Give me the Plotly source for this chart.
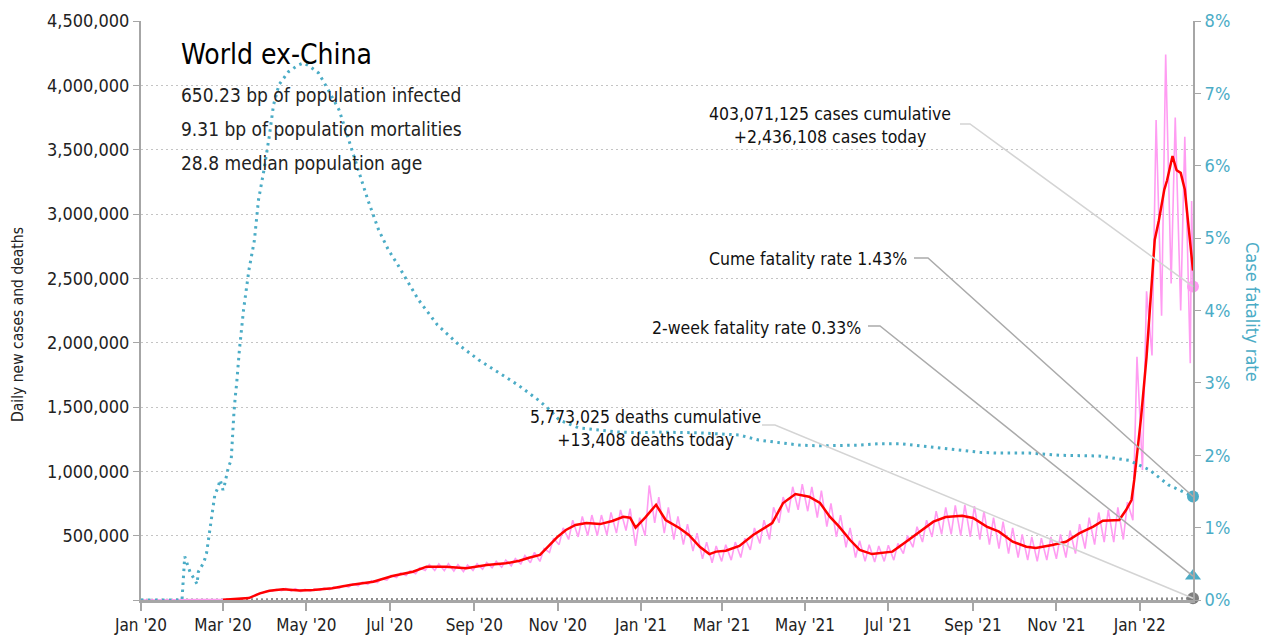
import pandas as pd
import plotly.graph_objects as go

FONT = "DejaVu Sans Condensed, Liberation Sans Narrow, Roboto Condensed, sans-serif"

# ---- 7-day average of daily new cases (thousands) ----
avg_dates = ["2020-03-01","2020-03-06","2020-03-13","2020-03-20","2020-03-28","2020-04-04","2020-04-14",
             "2020-04-26","2020-05-06","2020-05-20","2020-06-02","2020-06-19","2020-07-03","2020-07-18",
             "2020-07-28","2020-08-11","2020-08-26","2020-09-10","2020-09-24","2020-10-04","2020-10-11",
             "2020-10-19","2020-10-26","2020-11-01","2020-11-07","2020-11-14","2020-11-22","2020-12-02",
             "2020-12-11","2020-12-19","2020-12-24","2020-12-28","2021-01-04","2021-01-12","2021-01-19",
             "2021-01-29","2021-02-05","2021-02-13","2021-02-20","2021-02-25","2021-03-04","2021-03-14",
             "2021-03-24","2021-04-03","2021-04-07","2021-04-15","2021-04-24","2021-05-04","2021-05-12",
             "2021-05-19","2021-05-26","2021-06-03","2021-06-10","2021-06-19","2021-07-04","2021-07-14",
             "2021-07-24","2021-08-03","2021-08-12","2021-08-24","2021-09-01","2021-09-11","2021-09-20",
             "2021-09-30","2021-10-10","2021-10-17","2021-10-29","2021-11-08","2021-11-18","2021-11-28",
             "2021-12-05","2021-12-17","2021-12-22","2021-12-26","2021-12-28","2021-12-31","2022-01-02",
             "2022-01-06","2022-01-08","2022-01-12","2022-01-15","2022-01-19","2022-01-21","2022-01-25",
             "2022-01-28","2022-01-31","2022-02-03","2022-02-06","2022-02-09"]
avg_k = [1,5,8,15,52,72,83,74,78,91,117,142,187,220,259,259,246,272,285,305,328,350,427,492,544,583,598,590,
         614,647,640,562,640,740,622,560,505,414,357,376,383,420,505,570,598,754,824,803,754,650,570,466,389,
         357,376,453,531,609,645,655,637,570,531,453,414,404,427,453,520,570,616,622,699,777,933,1220,1420,
         1890,2200,2800,2950,3190,3260,3450,3340,3320,3190,2880,2560]

# ---- raw daily new cases (thousands): weekly low (Mondays) and weekly high (Thursdays) ----
raw_week_start = "2020-03-02"
raw_lo_k = [2,5,9,30,55,68,72,70,66,68,74,80,90,100,110,122,135,155,175,190,205,230,230,228,225,220,230,240,
            250,255,265,280,290,300,370,430,470,490,500,500,505,520,540,420,500,600,520,470,430,380,320,290,
            300,310,330,390,440,470,600,680,700,690,640,570,490,410,330,300,295,300,310,360,410,450,490,510,
            510,500,490,470,430,400,360,330,310,300,310,320,330,360,400,430,450,450,470,620,1010,1900,2210,
            2460,2250,1840]
raw_hi_k = [4,8,15,45,70,82,90,88,82,85,92,100,112,126,138,150,165,190,210,228,250,275,280,282,275,272,282,292,
            300,310,322,345,370,400,480,560,620,650,660,660,680,700,710,640,890,800,720,650,590,520,450,420,
            430,450,480,560,620,720,800,880,900,880,850,750,660,560,460,430,420,425,440,500,570,620,690,720,
            735,740,730,690,640,610,560,510,490,480,490,510,540,590,640,680,700,720,760,1890,2400,3730,4240,
            3750,3600]
raw_head_dates = ["2020-01-01", "2020-02-28"]
raw_head_k = [0, 0.5]
raw_tail_dates = ["2022-02-08", "2022-02-09"]
raw_tail_k = [3100, 2436.108]

# ---- daily deaths (thousands) ----
death_dates = ["2020-01-01","2020-03-01","2020-03-15","2020-03-29","2020-04-12","2020-04-26","2020-05-10",
               "2020-05-24","2020-06-07","2020-06-21","2020-07-05","2020-07-19","2020-08-02","2020-08-16",
               "2020-08-30","2020-09-13","2020-09-27","2020-10-11","2020-10-25","2020-11-08","2020-11-22",
               "2020-12-06","2020-12-20","2021-01-03","2021-01-17","2021-01-31","2021-02-14","2021-02-28",
               "2021-03-14","2021-03-28","2021-04-11","2021-04-25","2021-05-09","2021-05-23","2021-06-06",
               "2021-06-20","2021-07-04","2021-07-18","2021-08-01","2021-08-15","2021-08-29","2021-09-12",
               "2021-09-26","2021-10-10","2021-10-24","2021-11-07","2021-11-21","2021-12-05","2021-12-19",
               "2022-01-02","2022-01-16","2022-01-30","2022-02-09"]
deaths_k = [0,0.1,0.5,3.5,6.5,5.5,4.5,4.0,4.2,4.5,4.8,5.5,5.8,5.8,5.4,5.3,5.3,5.6,6.5,8.5,10.5,11.2,11.5,11.8,
            14.0,13.0,10.5,8.8,8.8,10.0,11.5,13.5,12.8,11.2,10.0,8.5,7.8,8.0,9.0,10.0,9.8,9.0,7.8,6.8,6.9,7.0,
            7.0,7.2,6.8,6.5,7.5,10.0,11.5]

# ---- cumulative case fatality rate (%) ----
cfr_dates = ["2020-01-01","2020-01-31","2020-02-02","2020-02-03","2020-02-06","2020-02-09","2020-02-11",
             "2020-02-12","2020-02-13","2020-02-16","2020-02-18","2020-02-19","2020-02-20","2020-02-21",
             "2020-02-22","2020-02-23","2020-02-24","2020-02-26","2020-02-28","2020-03-01","2020-03-02",
             "2020-03-04","2020-03-05","2020-03-07","2020-03-08","2020-03-09","2020-03-10","2020-03-11",
             "2020-03-13","2020-03-16","2020-03-20","2020-03-24","2020-03-27","2020-03-31","2020-04-04",
             "2020-04-07","2020-04-11","2020-04-18","2020-04-25","2020-04-29","2020-05-03","2020-05-10",
             "2020-05-17","2020-05-25","2020-06-01","2020-06-08","2020-06-15","2020-06-23","2020-06-30",
             "2020-07-07","2020-07-22","2020-08-05","2020-08-21","2020-09-04","2020-09-19","2020-10-03",
             "2020-10-18","2020-10-26","2020-11-02","2020-11-16","2020-12-01","2020-12-16","2020-12-31",
             "2021-01-14","2021-02-12","2021-03-14","2021-03-28","2021-04-27","2021-05-12","2021-06-10",
             "2021-06-25","2021-07-09","2021-08-08","2021-09-06","2021-09-20","2021-10-12","2021-11-03",
             "2021-12-02","2021-12-24","2022-01-08","2022-01-22","2022-02-09"]
cfr_pct = [0,0,0.60,0.55,0.38,0.29,0.22,0.39,0.42,0.52,0.65,0.78,0.92,1.01,1.15,1.29,1.45,1.54,1.66,1.52,1.58,
           1.75,1.84,1.93,2.30,2.58,2.81,2.99,3.45,4.00,4.56,4.97,5.53,5.94,6.42,6.84,7.12,7.30,7.39,7.42,7.38,
           7.28,7.05,6.77,6.36,5.94,5.53,5.11,4.84,4.63,4.15,3.80,3.52,3.32,3.14,2.97,2.76,2.63,2.49,2.38,2.35,
           2.32,2.31,2.32,2.31,2.28,2.21,2.14,2.13,2.14,2.16,2.16,2.10,2.04,2.03,2.03,2.00,1.99,1.93,1.80,
           1.59,1.43]

# ---- headline numbers ----
cases_cum = 403071125
cases_today = 2436108
deaths_cum = 5773025
deaths_today = 13408
cume_cfr = 1.43
two_week_cfr = 0.33
end_date = "2022-02-09"
title = "World ex-China"
stats = ["650.23 bp of population infected", "9.31 bp of population mortalities", "28.8 median population age"]
y_title = "Daily new cases and deaths"
y2_title = "Case fatality rate"

Y_MAX = 4500000
Y2_MAX = 8

# build raw zigzag from the weekly lows/highs
mondays = pd.date_range(raw_week_start, periods=len(raw_lo_k), freq="7D")
raw_x, raw_y = list(pd.to_datetime(raw_head_dates)), [v * 1000 for v in raw_head_k]
for i, m in enumerate(mondays):
    raw_x.append(m); raw_y.append(raw_lo_k[i] * 1000)
    if i < len(raw_hi_k):
        raw_x.append(m + pd.Timedelta(days=3)); raw_y.append(raw_hi_k[i] * 1000)
raw_x += list(pd.to_datetime(raw_tail_dates)); raw_y += [v * 1000 for v in raw_tail_k]

TEAL = "#4bacc6"
PINK = "#ff9cf2"

fig = go.Figure()
fig.add_trace(go.Scatter(x=death_dates, y=[v * 1000 for v in deaths_k], mode="lines",
                         line=dict(color="#8c8c8c", width=2.5, dash="2px,3px"), hoverinfo="skip"))
fig.add_trace(go.Scatter(x=raw_x, y=raw_y, mode="lines", line=dict(color=PINK, width=1.6), hoverinfo="skip"))
fig.add_trace(go.Scatter(x=avg_dates, y=[v * 1000 for v in avg_k], mode="lines",
                         line=dict(color="#ff0000", width=2.5), hoverinfo="skip"))
fig.add_trace(go.Scatter(x=cfr_dates, y=cfr_pct, mode="lines", yaxis="y2",
                         line=dict(color=TEAL, width=3, dash="2.5px,4.5px"), hoverinfo="skip"))
# end markers
fig.add_trace(go.Scatter(x=[end_date], y=[cases_today], mode="markers", cliponaxis=False,
                         marker=dict(color=PINK, size=12)))
fig.add_trace(go.Scatter(x=[end_date], y=[deaths_today], mode="markers", cliponaxis=False,
                         marker=dict(color="#7f7f7f", size=12)))
fig.add_trace(go.Scatter(x=[end_date], y=[cume_cfr], mode="markers", yaxis="y2", cliponaxis=False,
                         marker=dict(color=TEAL, size=12)))
fig.add_trace(go.Scatter(x=[end_date], y=[two_week_cfr], mode="markers", yaxis="y2", cliponaxis=False,
                         marker=dict(color=TEAL, size=14, symbol="triangle-up")))

# target plot-area edges in page pixels; the page body has an 8px margin
OFF = 8
L, R, T, B = 141, 1193, 21, 600
W, H = R - L, B - T
def px(x): return (x - L) / W
def py(y): return (B - y) / H

annotations = [
    dict(x=px(179), y=py(55), text=title, font=dict(size=28, color="#000")),
]
for i, s in enumerate(stats):
    annotations.append(dict(x=px(179), y=py(95 + 34 * i), text=s, font=dict(size=19, color="#222")))
for a in annotations:
    a.update(xref="paper", yref="paper", xanchor="left", yanchor="middle", showarrow=False)

def note(x, y, text, anchor):
    annotations.append(dict(xref="paper", yref="paper", x=x, y=y, text=text, showarrow=False,
                            xanchor=anchor, yanchor="middle", align="center",
                            font=dict(size=17.5, color="#111")))

note(px(830), py(125), f"{cases_cum:,} cases cumulative<br>+{cases_today:,} cases today", "center")
note(px(909), py(259), f"Cume fatality rate {cume_cfr:.2f}%", "right")
note(px(863), py(328), f"2-week fatality rate {two_week_cfr:.2f}%", "right")
note(px(645), py(428), f"{deaths_cum:,} deaths cumulative<br>+{deaths_today:,} deaths today", "center")

# axis titles
annotations.append(dict(xref="paper", yref="paper", x=px(18), y=py(325), text=y_title, textangle=-90,
                        showarrow=False, xanchor="center", yanchor="middle",
                        font=dict(size=15.5, color="#222")))
annotations.append(dict(xref="paper", yref="paper", x=px(1253), y=py(312), text=y2_title, textangle=90,
                        showarrow=False, xanchor="center", yanchor="middle",
                        font=dict(size=18, color=TEAL)))

def leader(x0, y0, xk, y1, color):
    return dict(type="path", xref="paper", yref="paper",
                path=f"M {x0} {y0} L {xk} {y0} L 1 {y1}", line=dict(color=color, width=1.5))

shapes = [
    leader(px(960), py(124), px(970), cases_today / Y_MAX, "#d4d4d4"),
    leader(px(914), py(258), px(928), cume_cfr / Y2_MAX, "#ababab"),
    leader(px(868), py(326), px(880), two_week_cfr / Y2_MAX, "#ababab"),
    leader(px(762), py(425), px(775), deaths_today / Y_MAX, "#d4d4d4"),
]

fig.update_layout(
    width=1273 - OFF, height=642 - OFF, showlegend=False,
    margin=dict(l=L - OFF, r=1273 - R, t=T - OFF, b=642 - B, autoexpand=False),
    paper_bgcolor="white", plot_bgcolor="white",
    font=dict(family=FONT, size=17, color="#222"),
    annotations=annotations, shapes=shapes,
    xaxis=dict(type="date", range=["2020-01-01", end_date], tick0="2020-01-01", dtick="M2",
               tickformat="%b '%y", ticks="outside", ticklen=8, tickcolor="#a6a6a6", tickwidth=1.5,
               showline=True, linecolor="#a6a6a6", linewidth=3, showgrid=False, zeroline=False,
               automargin=False, tickfont=dict(size=17, color="#222")),
    yaxis=dict(range=[0, Y_MAX], tickvals=list(range(0, Y_MAX + 1, 500000)),
               ticktext=[f"{v:,}" if v else "" for v in range(0, Y_MAX + 1, 500000)],
               ticks="outside", ticklen=6, tickcolor="#a6a6a6", showline=True, linecolor="#a6a6a6",
               linewidth=2, showgrid=True, gridcolor="#c4c4c4", griddash="2px,3px", gridwidth=1,
               zeroline=False, automargin=False, tickfont=dict(size=18, color="#222")),
    yaxis2=dict(range=[0, Y2_MAX], overlaying="y", side="right", tickvals=list(range(0, 9)),
                ticktext=[f"{v}%" for v in range(0, 9)], ticks="outside", ticklen=6,
                tickcolor="#a6a6a6", showline=True, linecolor="#a6a6a6", linewidth=2,
                showgrid=False, zeroline=False, automargin=False,
                tickfont=dict(size=18, color=TEAL)),
)

fig.write_html("out.html")
